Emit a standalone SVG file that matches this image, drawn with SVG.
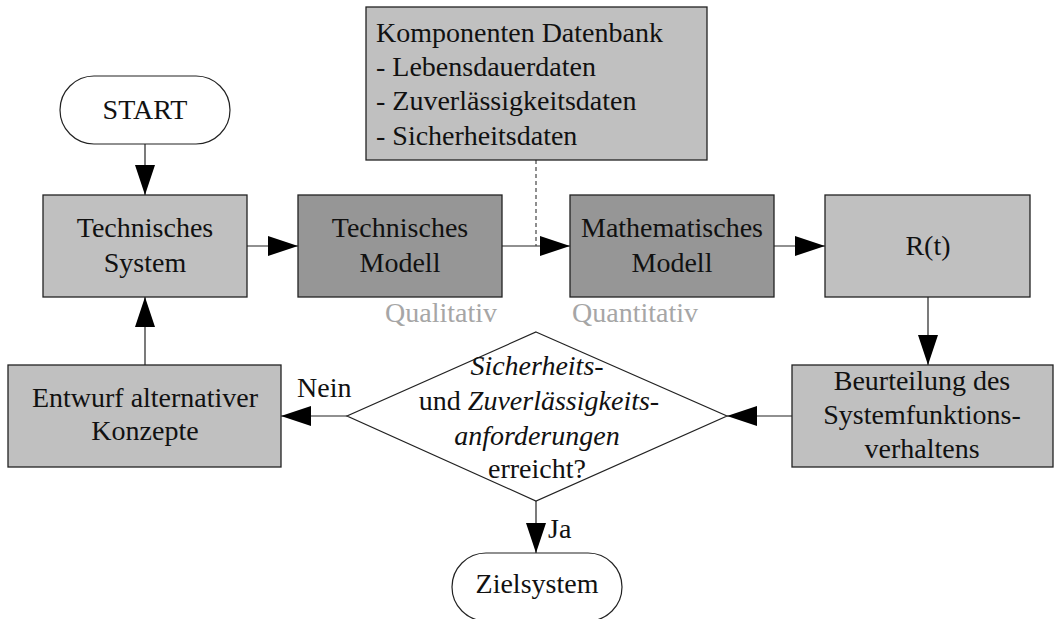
<svg xmlns="http://www.w3.org/2000/svg" width="1054" height="619" viewBox="0 0 1054 619">
  <style>
    text { font-family: "Liberation Serif", "DejaVu Serif", serif; font-size: 28px; fill: #111; }
    .c { text-anchor: middle; }
    .it { font-style: italic; }
    .note { fill: #a6a6a6; }
    .light { fill: #c0c0c0; stroke: #222; stroke-width: 1.3; }
    .dark { fill: #969696; stroke: #222; stroke-width: 1.3; }
    .term { fill: #fff; stroke: #222; stroke-width: 1.2; }
    .edge { fill: none; stroke: #222; stroke-width: 1.2; }
    .dash { fill: none; stroke: #444; stroke-width: 1.2; stroke-dasharray: 4 3; }
  </style>
  <defs>
    <marker id="arrow" markerUnits="userSpaceOnUse" markerWidth="30" markerHeight="20" refX="30" refY="10" orient="auto">
      <path d="M0,0 L30,10 L0,20 Z" fill="#000"/>
    </marker>
  </defs>

  <rect width="1054" height="619" fill="#fff"/>

  <!-- connectors -->
  <g id="connectors">
    <line class="edge" x1="145" y1="144" x2="145" y2="195" marker-end="url(#arrow)"/>
    <line class="edge" x1="247" y1="246" x2="298" y2="246" marker-end="url(#arrow)"/>
    <line class="edge" x1="502" y1="246" x2="570" y2="246" marker-end="url(#arrow)"/>
    <line class="dash" x1="536" y1="160" x2="536" y2="246"/>
    <line class="edge" x1="774" y1="246" x2="825" y2="246" marker-end="url(#arrow)"/>
    <line class="edge" x1="928" y1="297" x2="928" y2="365" marker-end="url(#arrow)"/>
    <line class="edge" x1="792" y1="416" x2="727" y2="416" marker-end="url(#arrow)"/>
    <line class="edge" x1="347" y1="416" x2="281" y2="416" marker-end="url(#arrow)"/>
    <line class="edge" x1="145" y1="365" x2="145" y2="297" marker-end="url(#arrow)"/>
    <line class="edge" x1="536" y1="501" x2="536" y2="553" marker-end="url(#arrow)"/>
    <text x="297" y="397">Nein</text>
    <text x="548" y="538">Ja</text>
  </g>

  <g id="start">
    <rect class="term" x="60" y="76" width="170" height="68" rx="34" ry="34"/>
    <text class="c" x="145" y="119">START</text>
  </g>

  <g id="technisches-system">
    <rect class="light" x="43" y="195" width="204" height="102"/>
    <text class="c" x="145" y="237">Technisches</text>
    <text class="c" x="145" y="272">System</text>
  </g>

  <g id="technisches-modell">
    <rect class="dark" x="298" y="195" width="204" height="102"/>
    <text class="c" x="400" y="237">Technisches</text>
    <text class="c" x="400" y="272">Modell</text>
    <text class="note" x="385" y="322">Qualitativ</text>
  </g>

  <g id="komponenten-datenbank">
    <rect class="light" x="366" y="7" width="341" height="153"/>
    <text x="376" y="42">Komponenten Datenbank</text>
    <text x="376" y="76">- Lebensdauerdaten</text>
    <text x="376" y="110">- Zuverlässigkeitsdaten</text>
    <text x="376" y="145">- Sicherheitsdaten</text>
  </g>

  <g id="mathematisches-modell">
    <rect class="dark" x="570" y="195" width="204" height="102"/>
    <text class="c" x="672" y="237">Mathematisches</text>
    <text class="c" x="672" y="272">Modell</text>
    <text class="note" x="572" y="322">Quantitativ</text>
  </g>

  <g id="rt">
    <rect class="light" x="825" y="195" width="205" height="102"/>
    <text class="c" x="928" y="255">R(t)</text>
  </g>

  <g id="beurteilung">
    <rect class="light" x="792" y="365" width="261" height="102"/>
    <text class="c" x="922" y="390">Beurteilung des</text>
    <text class="c" x="922" y="424">Systemfunktions-</text>
    <text class="c" x="922" y="458">verhaltens</text>
  </g>

  <g id="entscheidung">
    <polygon class="term" points="536,332 727,416 536,501 347,416"/>
    <text class="c it" x="537" y="375">Sicherheits-</text>
    <text class="c" x="539" y="410">und <tspan class="it">Zuverlässigkeits-</tspan></text>
    <text class="c it" x="537" y="445">anforderungen</text>
    <text class="c" x="537" y="478">erreicht?</text>
  </g>

  <g id="entwurf">
    <rect class="light" x="8" y="365" width="273" height="102"/>
    <text class="c" x="145" y="407">Entwurf alternativer</text>
    <text class="c" x="145" y="440">Konzepte</text>
  </g>

  <g id="zielsystem">
    <rect class="term" x="452" y="553" width="170" height="68" rx="34" ry="34"/>
    <text class="c" x="537" y="593">Zielsystem</text>
  </g>
</svg>
